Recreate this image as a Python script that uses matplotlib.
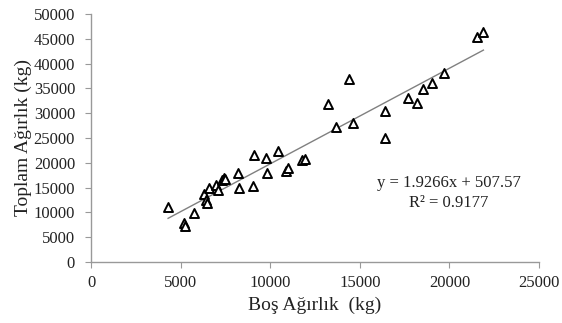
import matplotlib
matplotlib.use("Agg")
import matplotlib.pyplot as plt
import numpy as np

# empty weight vs. total weight (kg)
bos_agirlik = [
    4300, 5200, 5250, 5750, 6300, 6400, 6450, 6600, 7000, 7100,
    7300, 7400, 7500, 8200, 8250, 9050, 9100, 9750, 9800, 10450,
    10900, 11000, 11750, 11950, 13200, 13650, 14400, 14600, 16400, 16400,
    17700, 18200, 18500, 19050, 19700, 21550, 21900,
]
toplam_agirlik = [
    11100, 7900, 7300, 9900, 13700, 12500, 11950, 15000, 15450, 14500,
    16500, 16900, 16700, 17900, 14850, 15400, 21500, 21000, 17900, 22400,
    18400, 19000, 20450, 20700, 31800, 27200, 36800, 27950, 30500, 25050,
    33000, 32100, 34950, 36150, 38050, 45300, 46250,
]

slope = 1.9266
intercept = 507.57
r_squared = 0.9177

x_ticks = [0, 5000, 10000, 15000, 20000, 25000]
y_ticks = list(range(0, 50001, 5000))

plt.rcParams["font.family"] = ["Liberation Serif", "DejaVu Serif"]
text_color = "#222222"
axis_color = "#999999"

fig = plt.figure(figsize=(5.62, 3.23), dpi=100)
ax = fig.add_axes([0.162, 0.189, 0.797, 0.768])

ax.scatter(bos_agirlik, toplam_agirlik, marker="^", s=42,
           facecolors="white", edgecolors="black", linewidths=1.4, zorder=3)

line_x = np.array([min(bos_agirlik), max(bos_agirlik)])
ax.plot(line_x, slope * line_x + intercept, color="#808080", linewidth=1.0, zorder=2)

ax.text(19950, 13900, f"y = {slope}x + {intercept}\nR² = {r_squared}",
        ha="center", va="center", fontsize=12, color=text_color, linespacing=1.3)

ax.set_xlim(0, 25000)
ax.set_ylim(0, 50000)
ax.set_xticks(x_ticks)
ax.set_yticks(y_ticks)
ax.tick_params(labelsize=12, colors=axis_color, labelcolor=text_color,
               length=4.5, width=0.8)
ax.tick_params(axis="x", pad=5)
ax.tick_params(axis="y", pad=7)

for side in ("top", "right"):
    ax.spines[side].set_visible(False)
for side in ("left", "bottom"):
    ax.spines[side].set_color(axis_color)
    ax.spines[side].set_linewidth(1.0)

ax.set_xlabel("Boş Ağırlık  (kg)", fontsize=14, color=text_color, labelpad=4)
ax.set_ylabel("Toplam Ağırlık (kg)", fontsize=14, color=text_color, labelpad=1)

fig.savefig("out.png", dpi=100)
